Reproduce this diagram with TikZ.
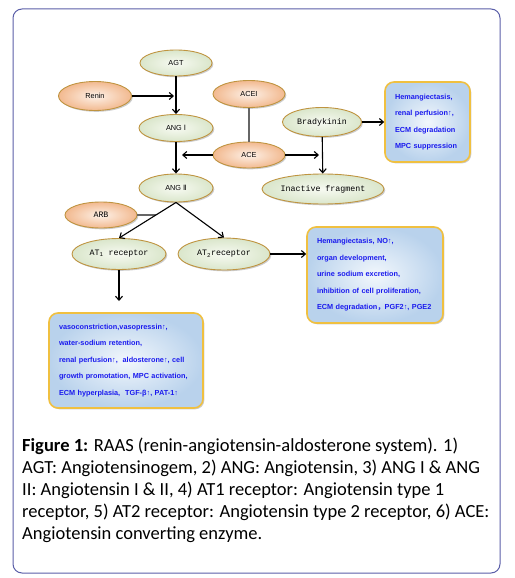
\documentclass[tikz,border=0pt]{standalone}
\usepackage{fontspec}
\setmainfont{Carlito}
\newfontfamily\boxfont{Liberation Sans}
\newfontfamily\monofont{Liberation Mono}
\newfontfamily\dvfont{DejaVu Sans}
\newfontfamily\cjk{Noto Sans CJK SC}
\usetikzlibrary{shapes.geometric,arrows.meta,shadows}
\definecolor{framec}{HTML}{5A5EA8}
\definecolor{greenout}{HTML}{DAE6CB}
\definecolor{greenin}{HTML}{F7FAF2}
\definecolor{orangeout}{HTML}{F2B98F}
\definecolor{orangein}{HTML}{FDF1E8}
\definecolor{ellborder}{HTML}{BF9440}
\definecolor{boxout}{HTML}{B9D2EC}
\definecolor{boxin}{HTML}{F2F7FC}
\definecolor{boxborder}{HTML}{F0C040}
\definecolor{boxtext}{HTML}{1A1AEE}
\tikzset{
  ell/.style={ellipse, draw=ellborder, line width=0.9pt, inner sep=0pt,
    drop shadow={shadow xshift=1.3pt, shadow yshift=-1.3pt, opacity=0.4}},
  gnode/.style={ell, shading=radial, inner color=greenin, outer color=greenout},
  onode/.style={ell, shading=radial, inner color=orangein, outer color=orangeout},
  sans/.style={font=\boxfont\fontsize{7.3}{8}\selectfont},
  mono/.style={font=\monofont\fontsize{8.3}{9}\selectfont},
  infobox/.style={rectangle, rounded corners=9pt, draw=boxborder, line width=1.6pt,
    shading=radial, inner color=boxin, outer color=boxout,
    drop shadow={shadow xshift=1.3pt, shadow yshift=-1.3pt, opacity=0.4},
    inner xsep=10pt, inner ysep=4pt, align=left, text=boxtext,
    font=\boxfont\bfseries\fontsize{7.3}{16.5}\selectfont},
  arr/.style={line width=1.1pt, -{Straight Barb[length=4pt,width=7pt]}},
  inhib/.style={line width=1.6pt, draw=black!60},
  captext/.style={anchor=base west, inner sep=0pt, font=\fontsize{18.5}{22}\selectfont}
}
\begin{document}
\begin{tikzpicture}[x=1pt,y=-1pt]
\useasboundingbox (0,0) rectangle (514,578);
\draw[framec, line width=1pt, rounded corners=9pt] (13,9) rectangle (500,573);

% nodes
\node[gnode, sans, minimum width=72pt, minimum height=26pt] (agt) at (176,63) {AGT};
\node[onode, sans, minimum width=73pt, minimum height=29pt] (renin) at (95,96) {Renin};
\node[gnode, sans, minimum width=74pt, minimum height=27pt] (ang1) at (176,128) {ANG {\dvfont Ⅰ}};
\node[onode, sans, minimum width=72pt, minimum height=27pt] (acei) at (249,94) {ACEI};
\node[onode, sans, minimum width=72pt, minimum height=26pt] (ace) at (249,155) {ACE};
\node[gnode, mono, minimum width=79pt, minimum height=29pt] (brady) at (322,122) {Bradykinin};
\node[gnode, mono, minimum width=122pt, minimum height=30pt] (inact) at (323,189) {Inactive fragment};
\node[gnode, sans, minimum width=74pt, minimum height=28pt] (ang2) at (176,188) {ANG {\dvfont Ⅱ}};
\node[onode, mono, minimum width=72pt, minimum height=26pt] (arb) at (101,215) {ARB};
\node[gnode, mono, minimum width=94pt, minimum height=31pt] (at1) at (119,254) {AT\textsubscript{1} receptor};
\node[gnode, mono, minimum width=92pt, minimum height=32pt] (at2) at (224,254) {AT\textsubscript{2}receptor};

\node[infobox, minimum width=85pt, minimum height=80pt, text width=65pt] (box1) at (427.5,122)
  {Hemangiectasis,\\renal perfusion↑,\\ECM degradation\\MPC suppression};
\node[infobox, minimum width=136pt, minimum height=96pt, text width=116pt] (box2) at (375,275)
  {Hemangiectasis, NO↑,\\organ development,\\urine sodium excretion,\\inhibition of cell proliferation,\\ECM degradation{\cjk ，}PGF2↑, PGE2};
\node[infobox, minimum width=154pt, minimum height=95pt, text width=134pt] (box3) at (126,360.5)
  {vasoconstriction,vasopressin↑,\\water-sodium retention,\\renal perfusion↑,\ \ aldosterone↑, cell\\growth promotation, MPC activation,\\ECM hyperplasia, \ TGF-β↑, PAT-1↑};

% junctions
\coordinate (jr) at (174,96);
\coordinate (jl) at (182,155);
\coordinate (jb) at (319,155);
\coordinate (jarb) at (156,215);
\coordinate (j3) at (119,301);

% connectors
\draw[arr] (agt) -- (ang1);
\draw[arr] (renin.east) -- (jr);
\draw[arr] (ang1) -- (ang2);
\draw[inhib] (acei) -- (ace);
\draw[arr] (ace.west) -- (jl);
\draw[arr] (ace.east) -- (jb);
\draw[arr] (brady) -- (inact);
\draw[arr] (brady.east) -- (box1.west);
\draw[inhib] (arb.east) -- (jarb);
\draw[arr] (ang2.south) -- (at1.north);
\draw[arr] (ang2.south) -- (at2.north);
\draw[arr] (at2.east) -- (at2.east -| box2.west);
\draw[arr] (at1.south) -- (j3);

% caption
\node[captext] (c1) at (22,451.5) {\textbf{Figure 1:} RAAS (renin-angiotensin-aldosterone system). 1)};
\node[captext] (c2) at (22,473.5) {AGT: Angiotensinogem, 2) ANG: Angiotensin, 3) ANG I \& ANG};
\node[captext] (c3) at (22,495.5) {II: Angiotensin I \& II, 4) AT1 receptor: Angiotensin type 1};
\node[captext] (c4) at (22,517.5) {receptor, 5) AT2 receptor: Angiotensin type 2 receptor, 6) ACE:};
\node[captext] (c5) at (22,539.5) {Angiotensin converting enzyme.};
\end{tikzpicture}
\end{document}
